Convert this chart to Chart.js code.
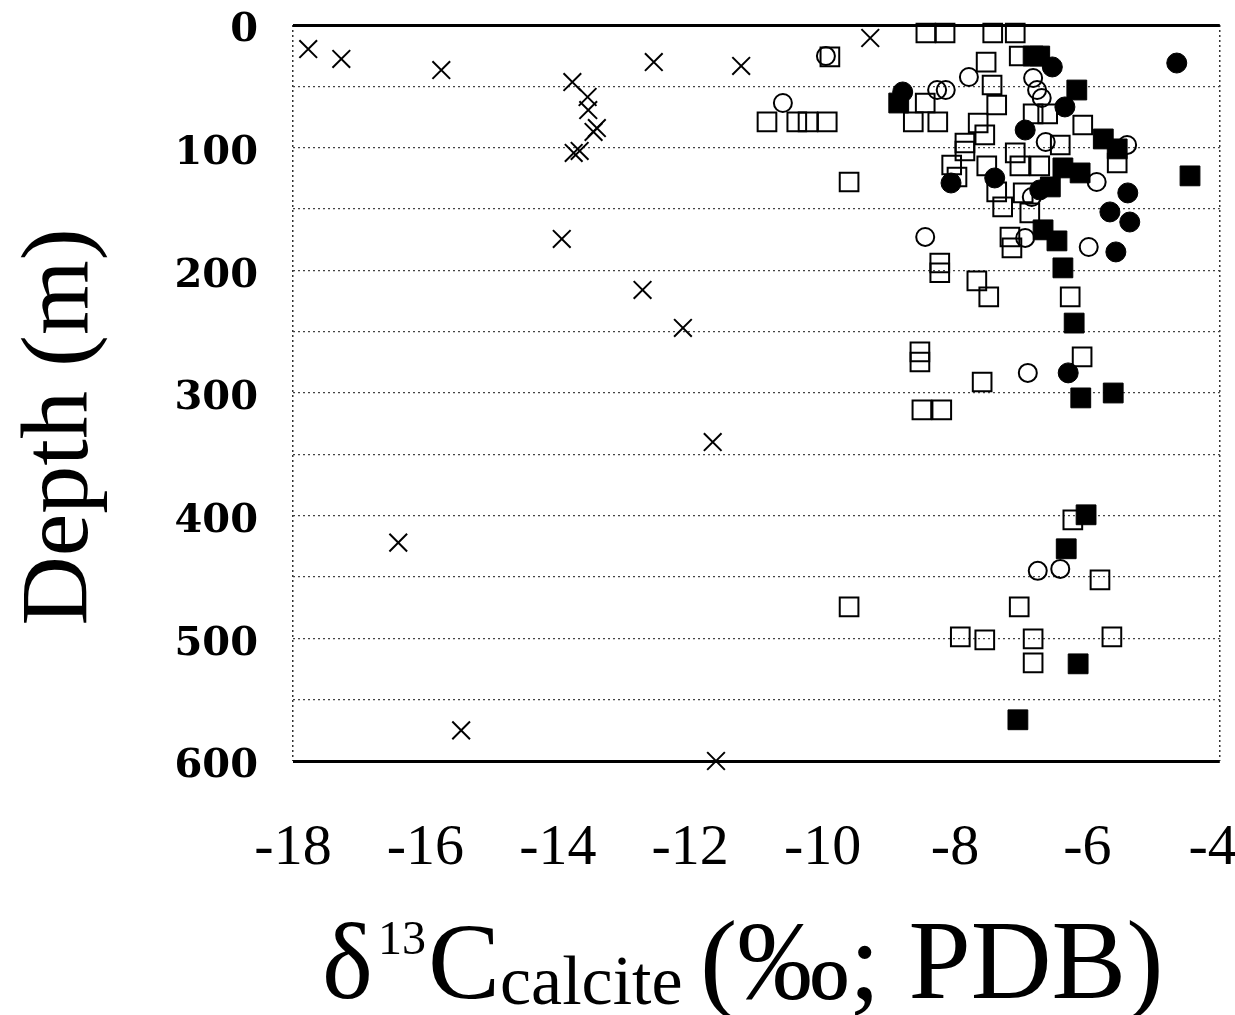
<!DOCTYPE html>
<html><head><meta charset="utf-8">
<script src="https://cdn.jsdelivr.net/npm/chart.js@4"></script>
<style>html,body{margin:0;padding:0;background:#fff}canvas{display:block}</style>
</head><body>
<canvas id="c" width="1235" height="1015"></canvas>
<script>
// ---- data (x = δ13C ‰ PDB, y = depth m) ----
const xTicks = [-18, -16, -14, -12, -10, -8, -6, -4];
const depthTicks = [0, 100, 200, 300, 400, 500, 600];

const crosses = [[-17.77,19.6],[-17.27,27.7],[-15.76,36.7],[-12.55,30.2],[-11.23,33.4],[-9.28,10.6],
  [-13.78,46.5],[-13.55,58.7],[-13.54,69.3],[-13.41,84.0],[-13.46,87.2],[-13.67,102.7],[-13.76,104.3],
  [-13.94,174.4],[-12.72,216],[-12.11,247],[-11.66,340],[-16.41,422],[-15.46,575],[-11.61,600]];

const filledSquares = [[-6.82,25.3],[-6.72,25.3],[-6.16,53],[-5.76,92.9],[-5.55,101],[-4.45,123],
  [-6.37,116.5],[-6.11,120.6],[-8.85,63.6],[-6.56,132],[-6.67,167],[-6.46,176],[-6.37,198],[-6.20,243],
  [-6.10,304],[-5.61,300],[-6.02,399.3],[-6.32,427],[-6.14,520.8],[-7.05,566.4]];

const filledCircles = [[-4.65,31],[-6.53,34.2],[-6.34,66.8],[-6.94,85.6],[-8.79,54.6],[-8.06,128.8],
  [-7.40,124.7],[-6.72,134.5],[-5.39,136.9],[-5.66,152.4],[-5.36,160.6],[-5.57,185],[-6.29,283.6]];

const openCircles = [[-7.79,42.4],[-6.82,43.2],[-6.76,53],[-6.69,59.5],[-8.27,53],[-8.14,53],
  [-10.60,63.6],[-9.95,25.3],[-6.63,95.4],[-5.40,97.8],[-5.86,128],[-6.84,140.2],[-8.45,172.8],
  [-5.98,181],[-6.94,173.6],[-6.90,283.6],[-6.75,445],[-6.41,443.4]];

const openSquares = [[-8.44,6.5],[-8.15,6.5],[-7.43,6.5],[-7.09,6.5],[-7.03,25.3],[-9.89,26],
  [-7.53,30.2],[-7.44,48.9],[-7.37,65.2],[-8.45,63.6],[-8.63,79],[-8.26,79],[-10.84,79],[-10.39,79],
  [-10.22,79],[-9.93,79],[-9.60,128],[-7.65,79.9],[-7.55,89.6],[-7.85,96.2],[-7.85,102.7],[-8.05,114.1],
  [-7.97,123.9],[-7.52,114.9],[-7.09,104.3],[-7.02,114.9],[-6.72,114.9],[-7.37,136.1],[-6.97,136.9],
  [-6.82,72.5],[-6.60,72.5],[-6.07,81.5],[-6.41,97.8],[-5.55,112.5],[-7.28,148.3],[-6.87,153.2],
  [-7.17,172.8],[-7.14,181.7],[-8.23,194],[-8.23,202],[-7.67,208.6],[-7.49,221.7],[-6.26,221.7],
  [-8.53,266.5],[-8.53,274.7],[-6.08,270.6],[-7.59,291],[-8.50,313.8],[-8.20,313.8],[-6.22,403.4],
  [-5.81,452.3],[-9.60,474.3],[-7.03,474.3],[-7.92,498.8],[-7.55,501.2],[-6.82,500.4],[-5.63,498.8],
  [-6.82,520]];

const yTitle = 'Depth (m)';
const xTitleParts = ['δ', '13', 'C', 'calcite', '(‰; PDB)'];

const toPts = a => a.map(([x, y]) => ({x, y}));

const titlesPlugin = {
  id: 'titles',
  afterDraw(chart) {
    const ctx = chart.ctx;
    ctx.save();
    ctx.fillStyle = '#000';
    ctx.translate(62, 427);
    ctx.rotate(-Math.PI / 2);
    ctx.font = '96px "Liberation Serif"';
    ctx.textAlign = 'center';
    ctx.textBaseline = 'middle';
    ctx.fillText(yTitle, 0, 0);
    ctx.restore();

    ctx.save();
    ctx.fillStyle = '#000';
    ctx.textAlign = 'left';
    ctx.textBaseline = 'alphabetic';
    const base = 998;
    ctx.font = '108px "Liberation Serif"';
    ctx.fillText(xTitleParts[0], 322, base);
    ctx.font = '48px "Liberation Serif"';
    ctx.fillText(xTitleParts[1], 378, base - 44);
    ctx.font = '108px "Liberation Serif"';
    ctx.fillText(xTitleParts[2], 428, base);
    ctx.font = '70px "Liberation Serif"';
    ctx.fillText(xTitleParts[3], 500, base + 6);
    ctx.font = '112px "Liberation Serif"';
    ctx.fillText(xTitleParts[4], 700, base);
    ctx.restore();
  }
};

const isEnd = v => v === 0 || v === 600;

new Chart(document.getElementById('c'), {
  type: 'scatter',
  data: {
    datasets: [
      { label: 'filled circles', data: toPts(filledCircles), pointStyle: 'circle', pointRadius: 10,
        backgroundColor: '#000', borderColor: '#000', borderWidth: 1, clip: false },
      { label: 'filled squares', data: toPts(filledSquares), pointStyle: 'rect', pointRadius: 14,
        backgroundColor: '#000', borderColor: '#000', borderWidth: 1, clip: false },
      { label: 'open circles', data: toPts(openCircles), pointStyle: 'circle', pointRadius: 9,
        backgroundColor: 'rgba(0,0,0,0)', borderColor: '#000', borderWidth: 2, clip: false },
      { label: 'open squares', data: toPts(openSquares), pointStyle: 'rect', pointRadius: 13.2,
        backgroundColor: 'rgba(0,0,0,0)', borderColor: '#000', borderWidth: 2, clip: false },
      { label: 'crosses', data: toPts(crosses), pointStyle: 'crossRot', pointRadius: 12.5,
        backgroundColor: '#000', borderColor: '#000', borderWidth: 2, clip: false }
    ]
  },
  options: {
    responsive: false,
    animation: false,
    events: [],
    layout: { padding: { top: 25, right: 15, bottom: 0, left: 0 } },
    plugins: { legend: { display: false }, tooltip: { enabled: false } },
    scales: {
      x: {
        type: 'linear', min: -18, max: -4,
        afterBuildTicks: s => { s.ticks = xTicks.map(v => ({ value: v })); },
        afterFit: s => { s.height = 254; s.paddingLeft = 0; s.paddingRight = 0; },
        ticks: { color: '#000', font: { family: '"Liberation Serif"', size: 58 }, padding: 53,
          maxRotation: 0, autoSkip: false,
          callback: v => v === xTicks[xTicks.length - 1] ? String(v) + '\u2005' : String(v) },
        grid: { drawTicks: false, lineWidth: 1.5,
          color: c => (c.tick && (c.tick.value === -18 || c.tick.value === -4)) ? '#333' : 'rgba(0,0,0,0)' },
        border: { display: false, dash: [2, 3] }
      },
      y: {
        type: 'linear', min: 0, max: 600, reverse: true,
        afterBuildTicks: s => {
          const t = [];
          for (let i = 0; i < depthTicks.length; i++) {
            t.push({ value: depthTicks[i] });
            if (i < depthTicks.length - 1) t.push({ value: (depthTicks[i] + depthTicks[i + 1]) / 2 });
          }
          s.ticks = t;
        },
        afterFit: s => { s.width = 293; s.paddingTop = 0; s.paddingBottom = 0; },
        ticks: { color: '#000', font: { family: '"DejaVu Serif"', weight: 'bold', size: 40 }, padding: 35,
          labelOffset: 6, autoSkip: false, callback: v => depthTicks.includes(v) ? String(v) : '' },
        grid: { drawTicks: false,
          lineWidth: c => (c.tick && isEnd(c.tick.value)) ? 3 : 1.2,
          color: c => (c.tick && isEnd(c.tick.value)) ? '#000' : '#444' },
        border: { display: false, dash: c => (c.tick && isEnd(c.tick.value)) ? [] : [2, 3] }
      }
    }
  },
  plugins: [titlesPlugin]
});
</script>
</body></html>
